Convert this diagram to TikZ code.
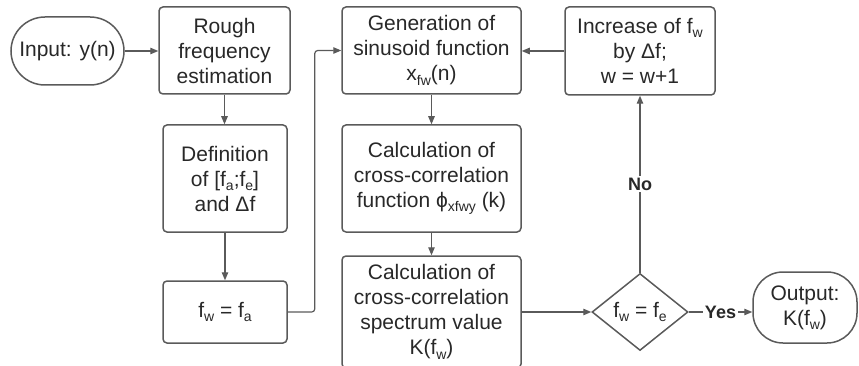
\documentclass[tikz,border=0pt]{standalone}
\usepackage{fontspec}
\setmainfont{Liberation Sans}
\usetikzlibrary{shapes.geometric,arrows.meta}
\definecolor{ln}{HTML}{5A5A5A}
\definecolor{tx}{HTML}{282828}
\newcommand\sbx[1]{\raisebox{-0.2em}{\fontsize{14}{14}\selectfont #1}}
\begin{document}
\begin{tikzpicture}[x=1pt,y=-1pt,
  box/.style={draw=ln, line width=1.5pt, rounded corners=4pt, align=center,
    text=tx, font=\fontsize{21}{25}\selectfont, inner sep=0pt},
  term/.style={box},
  dia/.style={draw=ln, line width=1.5pt, diamond, align=center, text=tx,
    font=\fontsize{21}{25}\selectfont, inner sep=0pt,
    minimum width=96, minimum height=77},
  arr/.style={draw=ln, line width=1.2pt, -{Triangle[length=8pt,width=6.5pt]}},
  lbl/.style={fill=white, text=tx, font=\bfseries\fontsize{18}{20}\selectfont, inner sep=1.5pt}]
\useasboundingbox (0,0) rectangle (859,366);
\clip (0,0) rectangle (859,366);
\node[term, minimum width=113, minimum height=68, rounded corners=34] (inp) at (67.5,51) {Input: y(n)};
\node[box, minimum width=131, minimum height=87] (rough) at (224.5,50.5) {Rough\\frequency\\estimation};
\node[box, minimum width=124, minimum height=107] (def) at (225,178.5) {Definition\\of [f\sbx{a};f\sbx{e}]\\and Δf};
\node[box, minimum width=124, minimum height=62] (fwa) at (225,312) {f\sbx{w} = f\sbx{a}};
\node[box, minimum width=179, minimum height=87] (gen) at (431.5,50.5) {Generation of\\sinusoid function\\x\sbx{fw}(n)};
\node[box, minimum width=179, minimum height=107] (ccf) at (431.5,178.5) {Calculation of\\cross-correlation\\function ϕ\sbx{xfwy} (k)};
\node[box, minimum width=179, minimum height=112] (spec) at (431.5,312) {Calculation of\\cross-correlation\\spectrum value\\K(f\sbx{w})};
\node[dia] (dec) at (640,312) {f\sbx{w} = f\sbx{e}};
\node[term, minimum width=104, minimum height=71, rounded corners=30] (out) at (805,307.5) {Output:\\K(f\sbx{w})};
\node[box, minimum width=150, minimum height=88] (inc) at (640,51) {Increase of f\sbx{w}\\by Δf;\\w = w+1};
\draw[arr] (inp.east) -- (inp.east -| rough.west);
\draw[arr] (rough.south) -- (rough.south |- def.north);
\draw[arr] (def.south) -- (fwa.north);
\draw[arr, rounded corners=3pt] (fwa.east) -- ++(27,0) |- (gen.west);
\draw[arr] (gen.south) -- (ccf.north);
\draw[arr] (ccf.south) -- (spec.north);
\draw[arr] (spec.east |- dec.west) -- (dec.west);
\draw[arr] (dec.east) -- node[lbl]{Yes} (out.west |- dec.east);
\draw[arr] (dec.north) -- node[lbl]{No} (inc.south);
\draw[arr] (inc.west) -- (inc.west -| gen.east);
\end{tikzpicture}
\end{document}
